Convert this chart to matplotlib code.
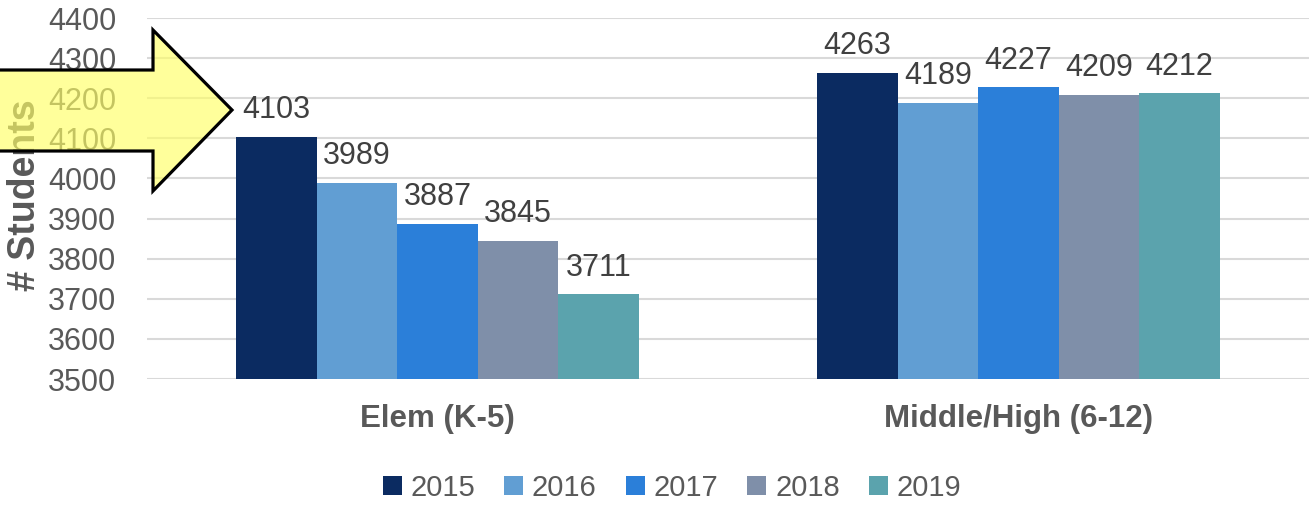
#grouped bar chart of student counts by school level, 2015-2019
#yellow arrow drawn on top pointing at the elem 2015 bar

import matplotlib.pyplot as plt
from matplotlib.patches import Polygon
import numpy as np

plt.rcParams['font.family'] = ['Liberation Sans', 'DejaVu Sans']

categories = ['Elem (K-5)', 'Middle/High (6-12)']
years = ['2015', '2016', '2017', '2018', '2019']
counts = {
    '2015': [4103, 4263],
    '2016': [3989, 4189],
    '2017': [3887, 4227],
    '2018': [3845, 4209],
    '2019': [3711, 4212],
}
colors = ['#0B2B61', '#619ED3', '#2B7FD9', '#7F8FA9', '#5BA3AD']
yticks = np.arange(3500, 4401, 100)

W, H = 1309, 505
fig = plt.figure(figsize=(W/100., H/100.), dpi=100)
ax = fig.add_axes([147./W, 1 - 379./H, 1 - 147./W, (379. - 18.)/H])

x = np.arange(len(categories))
barw = 0.1385
for i, yr in enumerate(years):
    pos = x + (i - 2)*barw
    bars = ax.bar(pos, counts[yr], width=barw, bottom=0, color=colors[i],
                  label=yr, zorder=2)
    for b, v in zip(bars, counts[yr]):
        ax.annotate(str(v), (b.get_x() + b.get_width()/2., v),
                    xytext=(0, 8.5), textcoords='offset points',
                    ha='center', va='bottom', fontsize=22, color='#404040')

ax.set_ylim(3500, 4400)
ax.set_xlim(-0.5, 1.5)
ax.set_yticks(yticks)
ax.set_xticks(x)
ax.set_xticklabels(categories, fontsize=22.5, fontweight='bold', color='#595959')
ax.tick_params(axis='y', length=0, pad=22, labelsize=22, labelcolor='#595959')
ax.tick_params(axis='x', length=0, pad=18)
ax.grid(axis='y', color='#D9D9D9', linewidth=1.5, zorder=0)
ax.set_axisbelow(True)
for s in ax.spines.values():
    s.set_visible(False)

fig.text(25./W, 1 - 195./H, '# Students', rotation=90, ha='center', va='center',
         fontsize=27, fontweight='bold', color='#595959')

fig.legend(loc='center', bbox_to_anchor=(672./W, 1 - 488./H), ncol=5,
           frameon=False, fontsize=21, handlelength=0.65, handleheight=0.65,
           handletextpad=0.3, columnspacing=1.0, labelcolor='#595959')

#arrow in figure pixel coords
pts = [(-5, 70), (153, 70), (153, 30), (232, 110), (153, 191), (153, 151), (-5, 151)]
pts = [(px/float(W), 1 - py/float(H)) for px, py in pts]
fig.add_artist(Polygon(pts, closed=True, transform=fig.transFigure,
                       facecolor='#FFFF66', alpha=0.65, edgecolor='none', zorder=5))
fig.add_artist(Polygon(pts, closed=True, transform=fig.transFigure,
                       facecolor='none', edgecolor='black', linewidth=2.3, zorder=6))

fig.savefig('out.png', dpi=100)
